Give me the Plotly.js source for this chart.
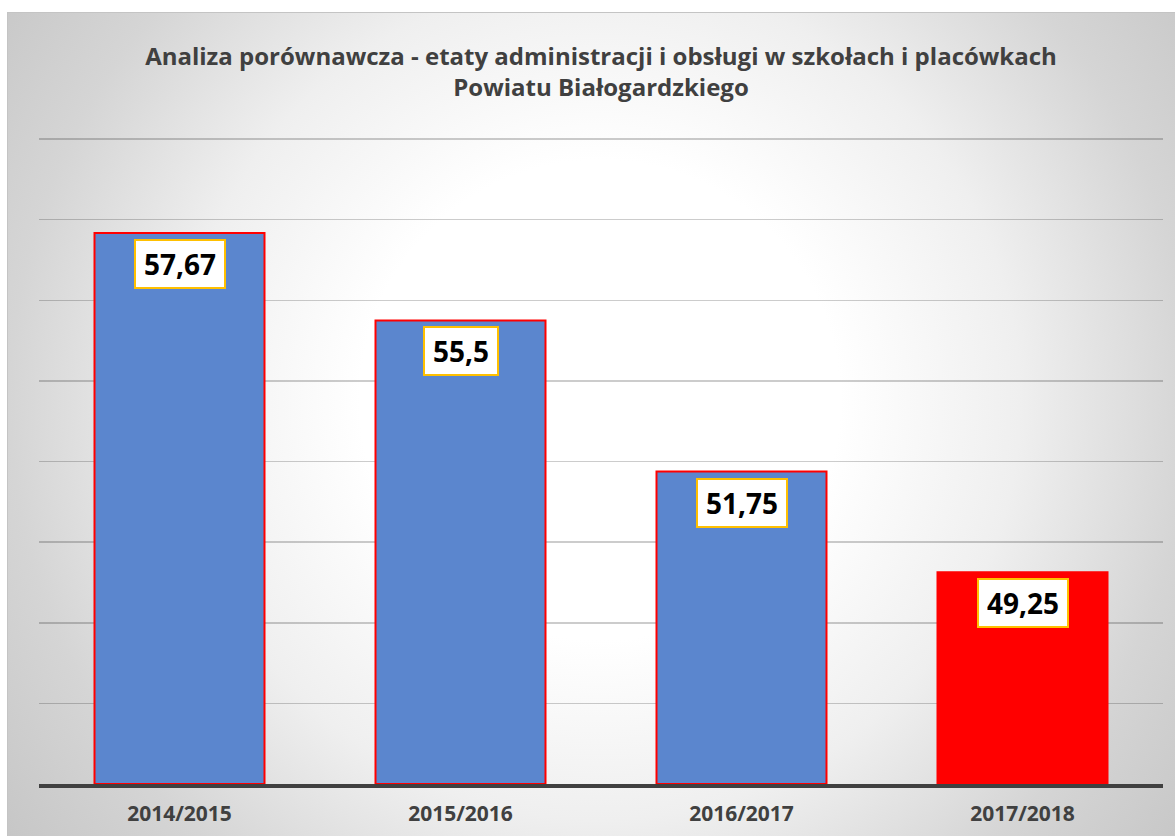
<!DOCTYPE html>
<html>
<head>
<meta charset="utf-8">
<script src="https://cdn.plot.ly/plotly-3.0.1.min.js"></script>
<style>
  html, body { margin: 0; padding: 0; background: #ffffff; width: 1175px; height: 836px; overflow: hidden; }
  #frame {
    position: absolute; left: 7px; top: 12px; width: 1168px; height: 824px;
    border-top: 1px solid #c4c4c4; border-left: 1px solid #c4c4c4;
    background: radial-gradient(circle at 592px 387px, #ffffff 0px, #ffffff 240px, #efefef 420px, #d5d5d5 590px, #c4c4c4 760px);
  }
  #chart { position: absolute; left: 1px; top: 1px; width: 1167px; height: 823px; }
</style>
</head>
<body>
<div id="frame"><div id="chart"></div></div>
<script>
// Data
const categories = ["2014/2015", "2015/2016", "2016/2017", "2017/2018"];
const values = [57.67, 55.5, 51.75, 49.25];
const valueLabels = ["57,67", "55,5", "51,75", "49,25"];
const barColors = ["#5B86CE", "#5B86CE", "#5B86CE", "#FF0000"];
const chartTitle = "Analiza porównawcza - etaty administracji i obsługi w szkołach i placówkach<br>Powiatu Białogardzkiego";
const axisMin = 44;

const trace = {
  type: "bar",
  x: categories,
  y: values.map(v => v - axisMin),
  base: axisMin,
  marker: { color: barColors, line: { color: "#FF0000", width: 2 } },
  hoverinfo: "x+y"
};

const annotations = categories.map((c, i) => ({
  x: c, y: values[i], xref: "x", yref: "y",
  xanchor: "center", yanchor: "top", yshift: -6,
  text: "<b>" + valueLabels[i] + "</b>",
  showarrow: false,
  font: { family: "Open Sans, sans-serif", size: 28, color: "#000000" },
  bgcolor: "#FFFFFF", bordercolor: "#FFC000", borderwidth: 2, borderpad: 8, height: 30
}));

const layout = {
  width: 1167, height: 823,
  margin: { l: 30, r: 13, t: 123, b: 53 },
  paper_bgcolor: "rgba(0,0,0,0)",
  plot_bgcolor: "rgba(0,0,0,0)",
  showlegend: false,
  bargap: 0.395,
  title: {
    text: chartTitle,
    font: { family: "Open Sans, sans-serif", size: 24, color: "#404040", weight: "bold" },
    x: 0.5, xref: "paper", xanchor: "center",
    y: 0.938, yref: "container", yanchor: "middle"
  },
  xaxis: {
    type: "category",
    showgrid: false,
    showline: true, linecolor: "#404040", linewidth: 4,
    ticks: "",
    ticklabelstandoff: 8,
    tickfont: { family: "Open Sans, sans-serif", size: 21, color: "#404040", weight: "bold" },
    fixedrange: true
  },
  yaxis: {
    range: [axisMin, 60.05],
    tick0: axisMin, dtick: 2,
    showticklabels: false,
    showgrid: true, gridcolor: "rgba(0,0,0,0.2)", gridwidth: 1.5,
    zeroline: false, showline: false, ticks: "",
    fixedrange: true
  },
  annotations: annotations
};

Plotly.newPlot("chart", [trace], layout, { displayModeBar: false, staticPlot: true });
</script>
</body>
</html>
